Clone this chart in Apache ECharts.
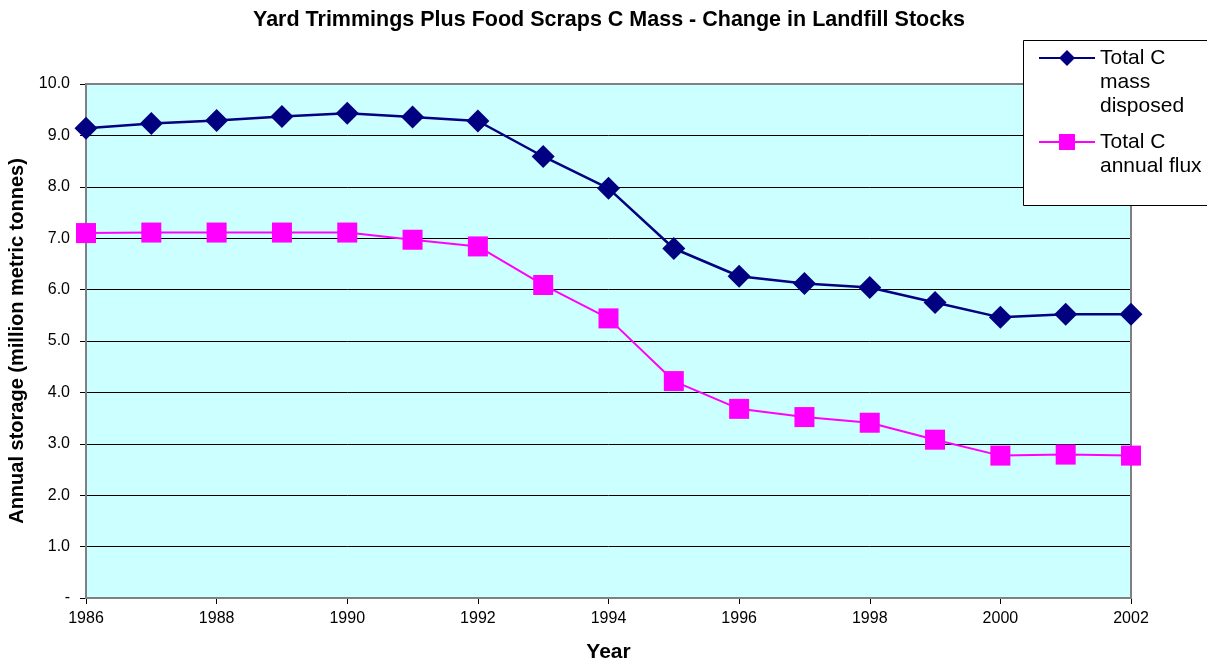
<!DOCTYPE html>
<html>
<head>
<meta charset="utf-8">
<script src="https://cdn.jsdelivr.net/npm/echarts@6/dist/echarts.min.js"></script>
<style>
  html, body { margin: 0; padding: 0; background: #fff; }
  #chart { width: 1207px; height: 661px; }
</style>
</head>
<body>
<div id="chart"></div>
<script>
// data
const years = ['1986', '1987', '1988', '1989', '1990', '1991', '1992', '1993', '1994',
  '1995', '1996', '1997', '1998', '1999', '2000', '2001', '2002'];
const massDisposed = [9.14, 9.23, 9.29, 9.37, 9.43, 9.36, 9.28, 8.59, 7.97,
  6.80, 6.26, 6.12, 6.04, 5.75, 5.46, 5.52, 5.52];
const annualFlux = [7.10, 7.11, 7.11, 7.11, 7.11, 6.97, 6.84, 6.09, 5.44,
  4.22, 3.68, 3.52, 3.41, 3.08, 2.77, 2.79, 2.77];

const FONT = 'Liberation Sans, Arial, sans-serif';

const chart = echarts.init(document.getElementById('chart'));

chart.setOption({
  animation: false,
  textStyle: { fontFamily: FONT },
  title: {
    text: 'Yard Trimmings Plus Food Scraps C Mass - Change in Landfill Stocks',
    left: 253,
    top: 9,
    padding: 0,
    textStyle: { fontSize: 21.5, fontWeight: 'bold', color: '#000', fontFamily: FONT }
  },
  legend: {
    orient: 'vertical',
    left: 1038,
    top: -2,
    padding: 0,
    itemGap: -12,
    itemWidth: 56,
    itemHeight: 20,
    z: 30,
    data: ['Total C mass disposed', 'Total C annual flux'],
    // leading blank lines push the first text line level with the icon, like the Excel legend
    formatter: function (name) {
      return name === 'Total C mass disposed' ? '\n\nTotal C\nmass\ndisposed' : '\nTotal C\nannual flux';
    },
    textStyle: { fontSize: 21, lineHeight: 24, color: '#000', fontFamily: FONT },
    selectedMode: false
  },
  graphic: [{
    type: 'rect',
    shape: { x: 1023.5, y: 40.5, width: 200, height: 165 },
    style: { fill: '#fff', stroke: '#000', lineWidth: 1 },
    z: 20
  }, {
    type: 'rect',
    shape: { x: 86, y: 84, width: 1045, height: 514 },
    style: { fill: 'none', stroke: '#808080', lineWidth: 2 },
    silent: true,
    z: 1
  }],
  grid: {
    left: 86,
    right: 76,
    top: 84,
    bottom: 63,
    outerBoundsMode: 'none',
    show: true,
    backgroundColor: '#CCFFFF',
    borderWidth: 0
  },
  xAxis: {
    type: 'category',
    data: years,
    boundaryGap: false,
    name: 'Year',
    nameLocation: 'middle',
    nameGap: 44,
    nameTextStyle: { fontSize: 21, fontWeight: 'bold', color: '#000', fontFamily: FONT },
    axisLine: { lineStyle: { color: '#000', width: 2 } },
    axisTick: { interval: 1, length: 6, lineStyle: { color: '#000', width: 1 } },
    axisLabel: { interval: 1, fontSize: 16, color: '#000', margin: 13 },
    splitLine: { show: false }
  },
  yAxis: {
    type: 'value',
    min: 0,
    max: 10,
    interval: 1,
    name: 'Annual storage (million metric tonnes)',
    nameLocation: 'middle',
    nameGap: 59,
    nameTextStyle: { fontSize: 20, fontWeight: 'bold', color: '#000', fontFamily: FONT },
    axisLine: { show: true, lineStyle: { color: '#000', width: 2 } },
    axisTick: { show: true, length: 6, lineStyle: { color: '#000' } },
    axisLabel: {
      fontSize: 16,
      color: '#000',
      margin: 16,
      formatter: function (v) { return v === 0 ? '-' : v.toFixed(1); }
    },
    splitLine: { lineStyle: { color: '#000', width: 1 } }
  },
  series: [
    {
      name: 'Total C mass disposed',
      type: 'line',
      data: massDisposed,
      symbol: 'diamond',
      symbolSize: 23,
      lineStyle: { color: '#000080', width: 2.5 },
      itemStyle: { color: '#000080' },
      z: 3
    },
    {
      name: 'Total C annual flux',
      type: 'line',
      data: annualFlux,
      symbol: 'rect',
      symbolSize: 20,
      lineStyle: { color: '#FF00FF', width: 2 },
      itemStyle: { color: '#FF00FF' },
      z: 3
    }
  ]
});

window.addEventListener('resize', () => { chart.resize(); });
</script>
</body>
</html>
